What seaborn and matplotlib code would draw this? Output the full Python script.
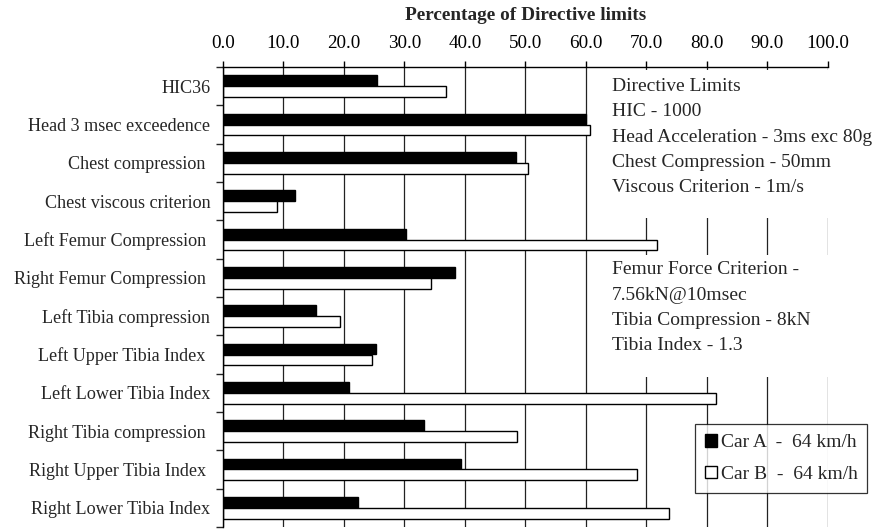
import matplotlib
matplotlib.use("Agg")
import matplotlib.pyplot as plt
import seaborn as sns
import pandas as pd
from matplotlib.patches import Patch, Rectangle

# values (% of directive limit)
categories = ["HIC36", "Head 3 msec exceedence", "Chest compression ",
              "Chest viscous criterion", "Left Femur Compression ",
              "Right Femur Compression ", "Left Tibia compression",
              "Left Upper Tibia Index ", "Left Lower Tibia Index",
              "Right Tibia compression ", "Right Upper Tibia Index ",
              "Right Lower Tibia Index"]
car_a = [25.5, 60.1, 48.5, 12.0, 30.3, 38.4, 15.4, 25.4, 20.8, 33.3, 39.3, 22.3]
car_b = [36.9, 60.7, 50.5, 9.0, 71.7, 34.4, 19.4, 24.6, 81.5, 48.7, 68.4, 73.8]
series = ["Car A  -  64 km/h", "Car B  -  64 km/h"]
xticks = [0, 10, 20, 30, 40, 50, 60, 70, 80, 90, 100]

notes_top = ["Directive Limits", "HIC - 1000", "Head Acceleration - 3ms exc 80g",
             "Chest Compression - 50mm", "Viscous Criterion - 1m/s"]
notes_mid = ["Femur Force Criterion -", "7.56kN@10msec",
             "Tibia Compression - 8kN", "Tibia Index - 1.3"]

df = pd.DataFrame({"cat": categories * 2,
                   "val": car_a + car_b,
                   "car": [series[0]] * len(categories) + [series[1]] * len(categories)})

sns.set_style("white")
plt.rcParams['font.family'] = ['Liberation Serif', 'DejaVu Serif']
fs = 14

fig = plt.figure(figsize=(8.73, 5.29), dpi=100)
W, H = 873, 529
ax = fig.add_axes([222.7 / W, 1 - 527 / H, (828 - 222.7) / W, (527 - 67) / H])

sns.barplot(data=df, y="cat", x="val", hue="car", palette=["black", "white"],
            edgecolor="black", linewidth=1.0, width=0.56, orient="h",
            order=categories, ax=ax, legend=False)

ax.set_xlim(0, 100)
ax.set_ylim(len(categories) - 0.5, -0.5)
ax.xaxis.tick_top()
ax.set_xticks(xticks)
ax.set_xticklabels([f"{v:.1f}" for v in xticks], fontsize=13.8)
ax.tick_params(axis="x", direction="out", length=4, width=1, pad=7, colors="black")
ax.set_yticks(range(len(categories)))
ax.set_yticklabels(categories, fontsize=13.1)
ax.set_yticks([i + 0.5 for i in range(-1, len(categories))], minor=True)
ax.tick_params(axis="y", which="major", length=0, pad=9)
ax.tick_params(axis="y", which="minor", length=5, width=1, direction="out", left=True)
ax.set_xlabel("")
ax.set_ylabel("")
ax.set_axisbelow(True)
ax.grid(axis="x", color="#222222", linewidth=0.9)
ax.grid(axis="y", visible=False)
for side in ["right", "bottom"]:
    ax.spines[side].set_visible(False)
for side in ["top", "left"]:
    ax.spines[side].set_color("black")
    ax.spines[side].set_linewidth(1.0)

fig.text(525.4 / W, 1 - 16 / H, "Percentage of Directive limits",
         ha="center", va="center", fontsize=13.9, fontweight="bold")

# white boxes behind the notes hide the grid lines
for y0, y1 in [(70, 218), (255, 377)]:
    ax.add_patch(Rectangle((600 / W, 1 - y1 / H), (W - 600) / W, (y1 - y0) / H,
                           transform=fig.transFigure, facecolor="white",
                           edgecolor="none", zorder=0.8, clip_on=False))

for i, t in enumerate(notes_top):
    fig.text(612 / W, 1 - (86.7 + i * 25.3) / H, t, ha="left", va="center", fontsize=fs)
for i, t in enumerate(notes_mid):
    fig.text(612 / W, 1 - (270 + i * 25.3) / H, t, ha="left", va="center", fontsize=fs)

handles = [Patch(facecolor="black", edgecolor="black"),
           Patch(facecolor="white", edgecolor="black")]
leg = fig.legend(handles, series, loc="lower left",
                 bbox_to_anchor=(695 / W, 1 - 492.7 / H), fontsize=fs,
                 frameon=True, fancybox=False, handlelength=0.62, handleheight=0.62,
                 handletextpad=0.2, borderpad=0.5, labelspacing=0.75, borderaxespad=0)
leg.get_frame().set_edgecolor("black")
leg.get_frame().set_linewidth(0.9)

fig.savefig("out.png", dpi=100)
